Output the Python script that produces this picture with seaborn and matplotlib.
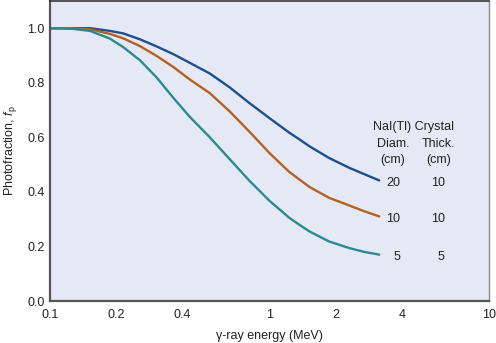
import numpy as np
import pandas as pd
import matplotlib
matplotlib.use("Agg")
import matplotlib.pyplot as plt
import seaborn as sns
from matplotlib.ticker import FixedLocator, NullFormatter

energy = [0.100, 0.125, 0.152, 0.187, 0.215, 0.257, 0.306, 0.364, 0.433, 0.534,
          0.658, 0.811, 1.00, 1.23, 1.37, 1.52, 1.87, 2.31, 2.70, 3.16]
f_20x10 = [1.00, 1.00, 1.00, 0.99, 0.981, 0.959, 0.933, 0.905, 0.873, 0.834,
           0.783, 0.725, 0.670, 0.617, 0.592, 0.567, 0.524, 0.488, 0.465, 0.442]
f_10x10 = [1.00, 1.00, 0.996, 0.979, 0.963, 0.934, 0.898, 0.858, 0.812, 0.762,
           0.695, 0.620, 0.542, 0.473, 0.445, 0.418, 0.378, 0.350, 0.329, 0.310]
f_5x5 = [1.00, 0.998, 0.99, 0.962, 0.931, 0.882, 0.819, 0.745, 0.675, 0.600,
         0.520, 0.440, 0.367, 0.305, 0.279, 0.255, 0.218, 0.194, 0.180, 0.170]

x_ticks = [0.1, 0.2, 0.4, 1, 2, 4, 10]
x_tick_labels = ["0.1", "0.2", "0.4", "1", "2", "4", "10"]
y_ticks = [0.0, 0.2, 0.4, 0.6, 0.8, 1.0]
y_tick_labels = ["0.0", "0.2", "0.4", "0.6", "0.8", "1.0"]

series = ["20x10", "10x10", "5x5"]
colors = {"20x10": "#1d4e8e", "10x10": "#b4611f", "5x5": "#2a8a8c"}

df = pd.concat([
    pd.DataFrame({"E": energy, "f": f_20x10, "s": "20x10"}),
    pd.DataFrame({"E": energy, "f": f_10x10, "s": "10x10"}),
    pd.DataFrame({"E": energy, "f": f_5x5, "s": "5x5"}),
])

sns.set_style("white")
plt.rcParams["font.family"] = ["Liberation Sans", "DejaVu Sans"]
plt.rcParams["mathtext.fontset"] = "custom"
plt.rcParams["mathtext.it"] = "Liberation Sans:italic"
plt.rcParams["mathtext.rm"] = "Liberation Sans"

fig = plt.figure(figsize=(4.96, 3.43), dpi=100)
ax = fig.add_axes([0.101, 0.1224, 0.885, 0.875])
ax.set_facecolor("#e5e9f6")

sns.lineplot(data=df, x="E", y="f", hue="s", palette=colors, hue_order=series,
             linewidth=1.7, legend=False, ax=ax)
for line in ax.get_lines():
    line.set_solid_joinstyle("round")
    line.set_solid_capstyle("round")

ax.set_xscale("log")
ax.set_xlim(0.1, 10)
ax.set_ylim(0, 1.10)

ax.xaxis.set_major_locator(FixedLocator(x_ticks))
ax.set_xticklabels(x_tick_labels)
minor = [v * d for d in (0.1, 1) for v in range(2, 10) if v * d not in (0.2, 0.4, 2, 4)]
ax.xaxis.set_minor_locator(FixedLocator(minor))
ax.xaxis.set_minor_formatter(NullFormatter())
ax.set_yticks(y_ticks)
ax.set_yticklabels(y_tick_labels)
ax.yaxis.set_minor_locator(FixedLocator([0.1, 0.3, 0.5, 0.7, 0.9]))

ax.tick_params(axis="both", which="major", direction="in", length=5, width=0.8,
               color="#444444", labelsize=9, labelcolor="#222222", pad=4)
ax.tick_params(axis="both", which="minor", direction="in", length=3, width=0.7, color="#444444")
ax.tick_params(axis="x", which="major", pad=6)

for side in ["left", "bottom"]:
    ax.spines[side].set_color("#555555")
    ax.spines[side].set_linewidth(1.6)
ax.spines["top"].set_color("#333333")
ax.spines["top"].set_linewidth(1.2)
ax.spines["right"].set_color("#888888")
ax.spines["right"].set_linewidth(1.0)

ax.set_xlabel("\u03b3-ray energy (MeV)", fontsize=9, color="#222222", labelpad=6)
ax.set_ylabel(r"Photofraction, $\mathit{f}_{\rm p}$", fontsize=9, color="#222222", labelpad=6)

tk = dict(transform=ax.transAxes, fontsize=9, color="#222222", ha="center", va="center")
ax.text(0.827, 0.58, "NaI(Tl) Crystal", **tk)
ax.text(0.781, 0.523, "Diam.", **tk)
ax.text(0.781, 0.47, "(cm)", **tk)
ax.text(0.884, 0.523, "Thick.", **tk)
ax.text(0.884, 0.47, "(cm)", **tk)
ax.text(0.781, 0.393, "20", **tk)
ax.text(0.884, 0.393, "10", **tk)
ax.text(0.781, 0.273, "10", **tk)
ax.text(0.884, 0.273, "10", **tk)
ax.text(0.79, 0.147, "5", **tk)
ax.text(0.89, 0.147, "5", **tk)

fig.savefig("out.png", dpi=100)
